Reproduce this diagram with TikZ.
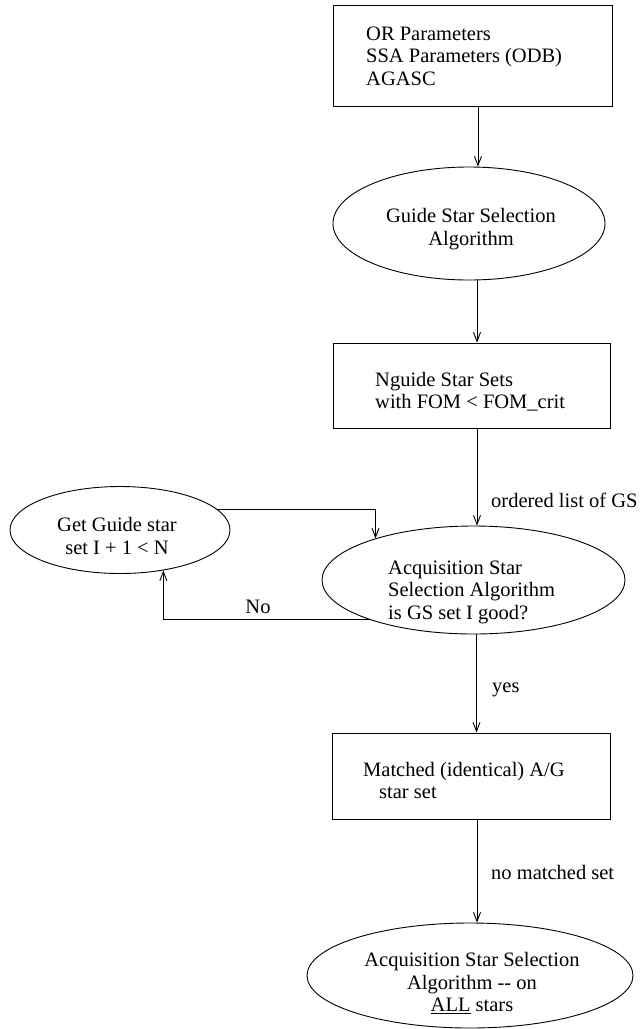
\documentclass[tikz,border=0pt]{standalone}
\usepackage{fontspec}
\setmainfont{Liberation Serif}
\usetikzlibrary{shapes.geometric,arrows.meta}
\begin{document}
\begin{tikzpicture}[x=1pt,y=-1pt,
  every node/.style={font=\fontsize{20.5}{22.5}\selectfont},
  box/.style={draw, line width=0.9pt, rectangle, inner sep=0pt},
  oval/.style={draw, line width=0.9pt, ellipse, inner sep=0pt},
  txt/.style={inner sep=0pt},
  conn/.style={line width=0.9pt, -{Straight Barb[length=9pt,width=7pt]}}
]
\useasboundingbox (0,0) rectangle (640,1029);

% shapes
\node[box, minimum width=279pt, minimum height=101pt] (inp) at (472.5,55.5) {};
\node[oval, minimum width=272pt, minimum height=113pt] (gss) at (469,223.5) {};
\node[box, minimum width=277pt, minimum height=85pt] (sets) at (471.5,385.5) {};
\node[oval, minimum width=220pt, minimum height=87pt] (ggs) at (120,530) {};
\node[oval, minimum width=303pt, minimum height=108pt] (ass) at (473.5,580) {};
\node[box, minimum width=278pt, minimum height=86pt] (match) at (471,776) {};
\node[oval, minimum width=326pt, minimum height=105pt] (all) at (470,975.5) {};

% texts
\node[txt, anchor=west, align=left] (inp-t) at (366,56) {OR Parameters\\SSA Parameters (ODB)\\AGASC};
\node[txt, align=center] (gss-t) at (471,229) {Guide Star Selection\\Algorithm};
\node[txt, anchor=west, align=left] (sets-t) at (375,391.5) {Nguide Star Sets\\with FOM < FOM\_crit};
\node[txt, align=center] (ggs-t) at (117,536) {Get Guide star\\set I + 1 < N};
\node[txt, anchor=west, align=left] (ass-t) at (388,592) {Acquisition Star\\Selection Algorithm\\is GS set I good?};
\node[txt, anchor=west, align=left] (match-t) at (363,780.5) {Matched (identical) A/G\\\hspace*{16pt}star set};
\node[txt, align=center] (all-t) at (472,983) {Acquisition Star Selection\\Algorithm -{}- on\\\underline{ALL} stars};

% connectors
\draw[conn] ([xshift=5.5pt]inp.south) -- ([xshift=5.5pt]inp.south |- gss.north);
\draw[conn] ([xshift=8pt]gss.south) -- ([xshift=8pt]gss.south |- sets.north);
\draw[conn] ([xshift=5.5pt]sets.south) -- ([xshift=5.5pt]sets.south |- ass.north);
\node[txt, anchor=west] (lbl-ord) at (491,500) {ordered list of GS};
\draw[conn] (ggs.12) -| (ass.157.8);
\draw[conn] (ass.201.8) -| (ggs.317.8);
\node[txt] (lbl-no) at (258,607) {No};
\draw[conn] ([xshift=3pt]ass.south) -- ([xshift=3pt]ass.south |- match.north);
\node[txt, anchor=west] (lbl-yes) at (492,690) {yes};
\draw[conn] ([xshift=6pt]match.south) -- ([xshift=6pt]match.south |- all.north);
\node[txt, anchor=west] (lbl-nm) at (491,872) {no matched set};
\end{tikzpicture}
\end{document}
